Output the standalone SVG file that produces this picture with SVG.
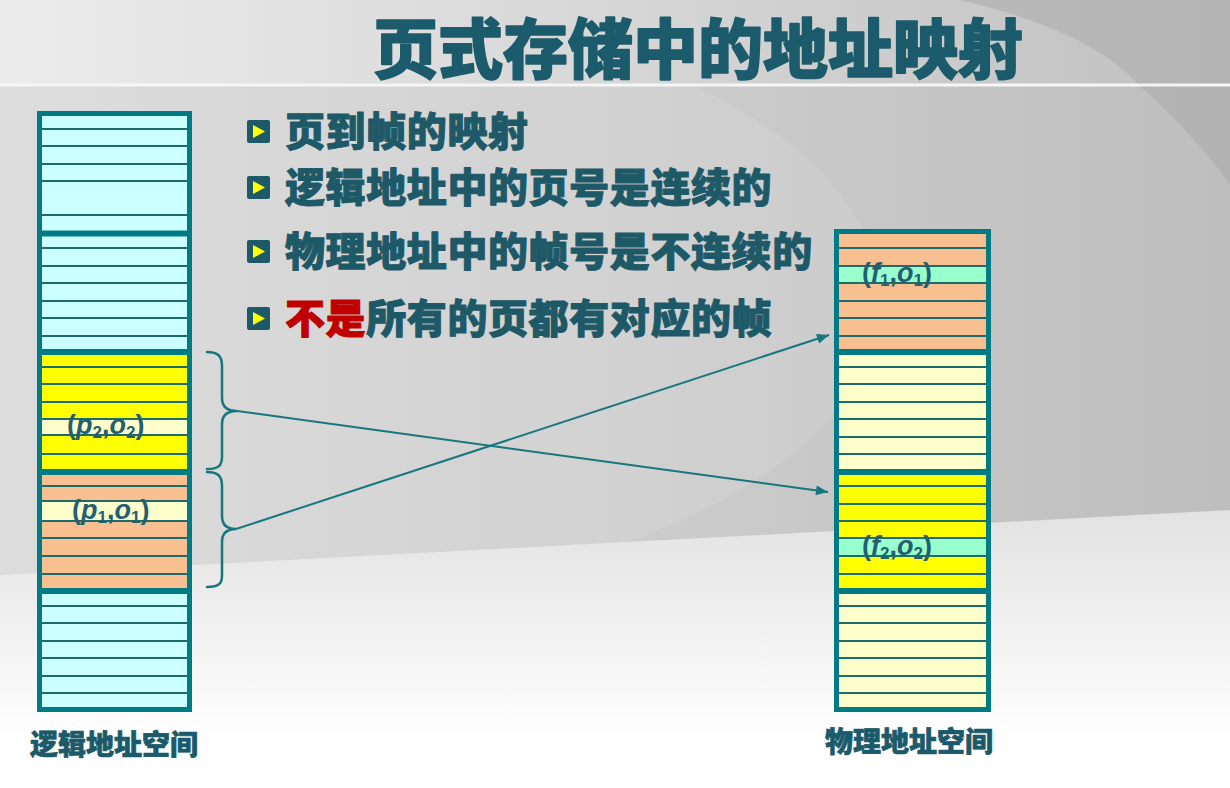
<svg xmlns="http://www.w3.org/2000/svg" width="1230" height="788" viewBox="0 0 1230 788">
<defs>
<linearGradient id="bgH" x1="0" y1="0" x2="1" y2="0">
<stop offset="0" stop-color="#d9d9d9"/>
<stop offset="0.5" stop-color="#cdcdcd"/>
<stop offset="1" stop-color="#bebebe"/>
</linearGradient>
<linearGradient id="bgBot" x1="0" y1="510" x2="0" y2="740" gradientUnits="userSpaceOnUse">
<stop offset="0" stop-color="#e2e2e2"/>
<stop offset="1" stop-color="#ffffff"/>
</linearGradient>
<linearGradient id="topBand" x1="0" y1="0" x2="1" y2="0">
<stop offset="0" stop-color="#ececec"/>
<stop offset="0.6" stop-color="#d2d2d2"/>
<stop offset="1" stop-color="#c0c0c0"/>
</linearGradient>
<marker id="arr" viewBox="0 0 12 10" markerWidth="13" markerHeight="10" refX="12" refY="5" orient="auto" markerUnits="userSpaceOnUse">
<path d="M0,0 L12,5 L0,10 z" fill="#16777f"/>
</marker>
</defs>
<style>
.border{fill:none;stroke:#007b85;stroke-width:5}
.sep{stroke:#007b85;stroke-width:6}
.ln{stroke:#1f6b6c;stroke-width:2.2}
.cyan{fill:#ccffff}
.yel{fill:#ffff00}
.peach{fill:#f8bf91}
.cream{fill:#ffffcc}
.mint{fill:#99ffcc}
.title{font-family:"Noto Sans CJK SC","Liberation Sans",sans-serif;font-weight:900;fill:#1b5b6b;stroke:#1b5b6b;stroke-width:1.6px;stroke-linejoin:round}
.bul{font-family:"Noto Sans CJK SC","Liberation Sans",sans-serif;font-weight:900;font-size:40px;letter-spacing:0.6px;fill:#1e5968;stroke:#1e5968;stroke-width:1px;stroke-linejoin:round}
.red{fill:#c00000;stroke:#c00000}
.ax{font-family:"Noto Sans CJK SC","Liberation Sans",sans-serif;font-weight:900;font-size:28px;fill:#1b5a6a;stroke:#1b5a6a;stroke-width:0.7px;stroke-linejoin:round}
.lab{font-family:"Liberation Sans",Arial,sans-serif;font-weight:700;font-size:27px;fill:#235f70}
.it{font-style:italic}
.sub{font-size:17px}
.brace{fill:none;stroke:#16777f;stroke-width:2.5;stroke-linecap:round}
.conn{fill:none;stroke:#16777f;stroke-width:2}
.bsq{fill:#1e5968}
.btri{fill:#ffff00}
</style>

<!-- background -->
<g id="background">
<rect x="0" y="0" width="1230" height="788" fill="url(#bgH)"/>
<ellipse cx="260" cy="300" rx="620" ry="300" fill="#ffffff" opacity="0.1"/>
<rect x="0" y="0" width="1230" height="85" fill="url(#topBand)"/>
<path d="M960,0 Q1090,30 1140,86 Q1195,135 1230,185 L1230,0 Z" fill="#a8a8a8" opacity="0.5"/>
<path d="M0,575 Q520,548 1230,510 L1230,788 L0,788 Z" fill="url(#bgBot)"/>
<line x1="0" y1="85" x2="1230" y2="85" stroke="#f6f6f6" stroke-width="3"/>
</g>

<!-- title -->
<g id="title">
<text class="title" x="373" y="73" font-size="65">页式存储中的地址映射</text>
</g>

<!-- bullets -->
<g id="bullets">
<g id="bullet1">
<rect class="bsq" x="247" y="120" width="23" height="23" rx="2"/>
<path class="btri" d="M253,125 L265,131.5 L253,138 Z"/>
<text class="bul" x="285" y="146">页到帧的映射</text>
</g>
<g id="bullet2">
<rect class="bsq" x="247" y="176" width="23" height="23" rx="2"/>
<path class="btri" d="M253,181 L265,187.5 L253,194 Z"/>
<text class="bul" x="285" y="202">逻辑地址中的页号是连续的</text>
</g>
<g id="bullet3">
<rect class="bsq" x="247" y="240" width="23" height="23" rx="2"/>
<path class="btri" d="M253,245 L265,251.5 L253,258 Z"/>
<text class="bul" x="285" y="266">物理地址中的帧号是不连续的</text>
</g>
<g id="bullet4">
<rect class="bsq" x="247" y="307" width="23" height="23" rx="2"/>
<path class="btri" d="M253,312 L265,318.5 L253,325 Z"/>
<text class="bul" x="285" y="333"><tspan class="red">不是</tspan>所有的页都有对应的帧</text>
</g>
</g>

<!-- logical address space -->
<g id="logical-space">
<rect class="cyan" x="40" y="114" width="150" height="119"/>
<rect class="cyan" x="40" y="234" width="150" height="117"/>
<rect class="yel" x="40" y="353" width="150" height="118"/>
<rect class="cream" x="40" y="419" width="150" height="16"/>
<rect class="peach" x="40" y="473" width="150" height="117"/>
<rect class="cream" x="40" y="501" width="150" height="20"/>
<rect class="cyan" x="40" y="592" width="150" height="118"/>
<g>
<line class="ln" x1="41" y1="129" x2="187" y2="129"/>
<line class="ln" x1="41" y1="146" x2="187" y2="146"/>
<line class="ln" x1="41" y1="164" x2="187" y2="164"/>
<line class="ln" x1="41" y1="181" x2="187" y2="181"/>
<line class="ln" x1="41" y1="215" x2="187" y2="215" stroke-width="3"/>
<line class="ln" x1="41" y1="248" x2="187" y2="248"/>
<line class="ln" x1="41" y1="266" x2="187" y2="266"/>
<line class="ln" x1="41" y1="283" x2="187" y2="283"/>
<line class="ln" x1="41" y1="301" x2="187" y2="301"/>
<line class="ln" x1="41" y1="318" x2="187" y2="318"/>
<line class="ln" x1="41" y1="336" x2="187" y2="336"/>
<line class="ln" x1="41" y1="367" x2="187" y2="367"/>
<line class="ln" x1="41" y1="384" x2="187" y2="384"/>
<line class="ln" x1="41" y1="402" x2="187" y2="402"/>
<line class="ln" x1="41" y1="419" x2="187" y2="419"/>
<line class="ln" x1="41" y1="435" x2="187" y2="435"/>
<line class="ln" x1="41" y1="454" x2="187" y2="454"/>
<line class="ln" x1="41" y1="486" x2="187" y2="486"/>
<line class="ln" x1="41" y1="501" x2="187" y2="501"/>
<line class="ln" x1="41" y1="521" x2="187" y2="521"/>
<line class="ln" x1="41" y1="538" x2="187" y2="538"/>
<line class="ln" x1="41" y1="556" x2="187" y2="556"/>
<line class="ln" x1="41" y1="574" x2="187" y2="574"/>
<line class="ln" x1="41" y1="606" x2="187" y2="606"/>
<line class="ln" x1="41" y1="623" x2="187" y2="623"/>
<line class="ln" x1="41" y1="641" x2="187" y2="641"/>
<line class="ln" x1="41" y1="658" x2="187" y2="658"/>
<line class="ln" x1="41" y1="676" x2="187" y2="676"/>
<line class="ln" x1="41" y1="693" x2="187" y2="693"/>
</g>
<line class="sep" x1="40" y1="233.5" x2="190" y2="233.5"/>
<line class="sep" x1="40" y1="352" x2="190" y2="352"/>
<line class="sep" x1="40" y1="472" x2="190" y2="472"/>
<line class="sep" x1="40" y1="591" x2="190" y2="591"/>
<rect class="border" x="39.5" y="113.5" width="150" height="596"/>
<text class="lab" x="67" y="434">(<tspan class="it">p</tspan><tspan class="sub" dy="4">2</tspan><tspan dy="-4">,</tspan><tspan class="it">o</tspan><tspan class="sub" dy="4">2</tspan><tspan dy="-4">)</tspan></text>
<text class="lab" x="72" y="519">(<tspan class="it">p</tspan><tspan class="sub" dy="4">1</tspan><tspan dy="-4">,</tspan><tspan class="it">o</tspan><tspan class="sub" dy="4">1</tspan><tspan dy="-4">)</tspan></text>
<text class="ax" x="30" y="755">逻辑地址空间</text>
</g>

<!-- physical address space -->
<g id="physical-space">
<rect class="peach" x="837" y="232" width="151" height="119"/>
<rect class="mint" x="837" y="266" width="151" height="17"/>
<rect class="cream" x="837" y="353" width="151" height="118"/>
<rect class="yel" x="837" y="473" width="151" height="117"/>
<rect class="mint" x="837" y="538" width="151" height="18"/>
<rect class="cream" x="837" y="592" width="151" height="118"/>
<g>
<line class="ln" x1="839" y1="248" x2="986" y2="248"/>
<line class="ln" x1="839" y1="266" x2="986" y2="266"/>
<line class="ln" x1="839" y1="283" x2="986" y2="283"/>
<line class="ln" x1="839" y1="301" x2="986" y2="301"/>
<line class="ln" x1="839" y1="318" x2="986" y2="318"/>
<line class="ln" x1="839" y1="336" x2="986" y2="336"/>
<line class="ln" x1="839" y1="367" x2="986" y2="367"/>
<line class="ln" x1="839" y1="384" x2="986" y2="384"/>
<line class="ln" x1="839" y1="402" x2="986" y2="402"/>
<line class="ln" x1="839" y1="419" x2="986" y2="419"/>
<line class="ln" x1="839" y1="437" x2="986" y2="437"/>
<line class="ln" x1="839" y1="454" x2="986" y2="454"/>
<line class="ln" x1="839" y1="486" x2="986" y2="486"/>
<line class="ln" x1="839" y1="504" x2="986" y2="504"/>
<line class="ln" x1="839" y1="521" x2="986" y2="521"/>
<line class="ln" x1="839" y1="538" x2="986" y2="538"/>
<line class="ln" x1="839" y1="556" x2="986" y2="556"/>
<line class="ln" x1="839" y1="574" x2="986" y2="574"/>
<line class="ln" x1="839" y1="606" x2="986" y2="606"/>
<line class="ln" x1="839" y1="623" x2="986" y2="623"/>
<line class="ln" x1="839" y1="641" x2="986" y2="641"/>
<line class="ln" x1="839" y1="658" x2="986" y2="658"/>
<line class="ln" x1="839" y1="676" x2="986" y2="676"/>
<line class="ln" x1="839" y1="693" x2="986" y2="693"/>
</g>
<line class="sep" x1="837" y1="352" x2="988" y2="352"/>
<line class="sep" x1="837" y1="472" x2="988" y2="472"/>
<line class="sep" x1="837" y1="591" x2="988" y2="591"/>
<rect class="border" x="836.5" y="231.5" width="152" height="478"/>
<text class="lab" x="862" y="282">(<tspan class="it">f</tspan><tspan class="sub" dy="4">1</tspan><tspan dy="-4">,</tspan><tspan class="it">o</tspan><tspan class="sub" dy="4">1</tspan><tspan dy="-4">)</tspan></text>
<text class="lab" x="862" y="555">(<tspan class="it">f</tspan><tspan class="sub" dy="4">2</tspan><tspan dy="-4">,</tspan><tspan class="it">o</tspan><tspan class="sub" dy="4">2</tspan><tspan dy="-4">)</tspan></text>
<text class="ax" x="825" y="752">物理地址空间</text>
</g>

<!-- connectors -->
<g id="connectors">
<path class="brace" d="M207,352 C218,352 222,356 222,366 L222,398 C222,407 227,411 237,411 C227,411 222,415 222,424 L222,457 C222,466 218,469 207,469"/>
<path class="brace" d="M207,472 C218,472 222,476 222,486 L222,516 C222,525 227,529 236,529 C227,529 222,533 222,542 L222,576 C222,584 218,587 207,587"/>
<line class="conn" x1="237" y1="411" x2="828" y2="492" marker-end="url(#arr)"/>
<line class="conn" x1="236" y1="529" x2="829" y2="335" marker-end="url(#arr)"/>
</g>
</svg>
